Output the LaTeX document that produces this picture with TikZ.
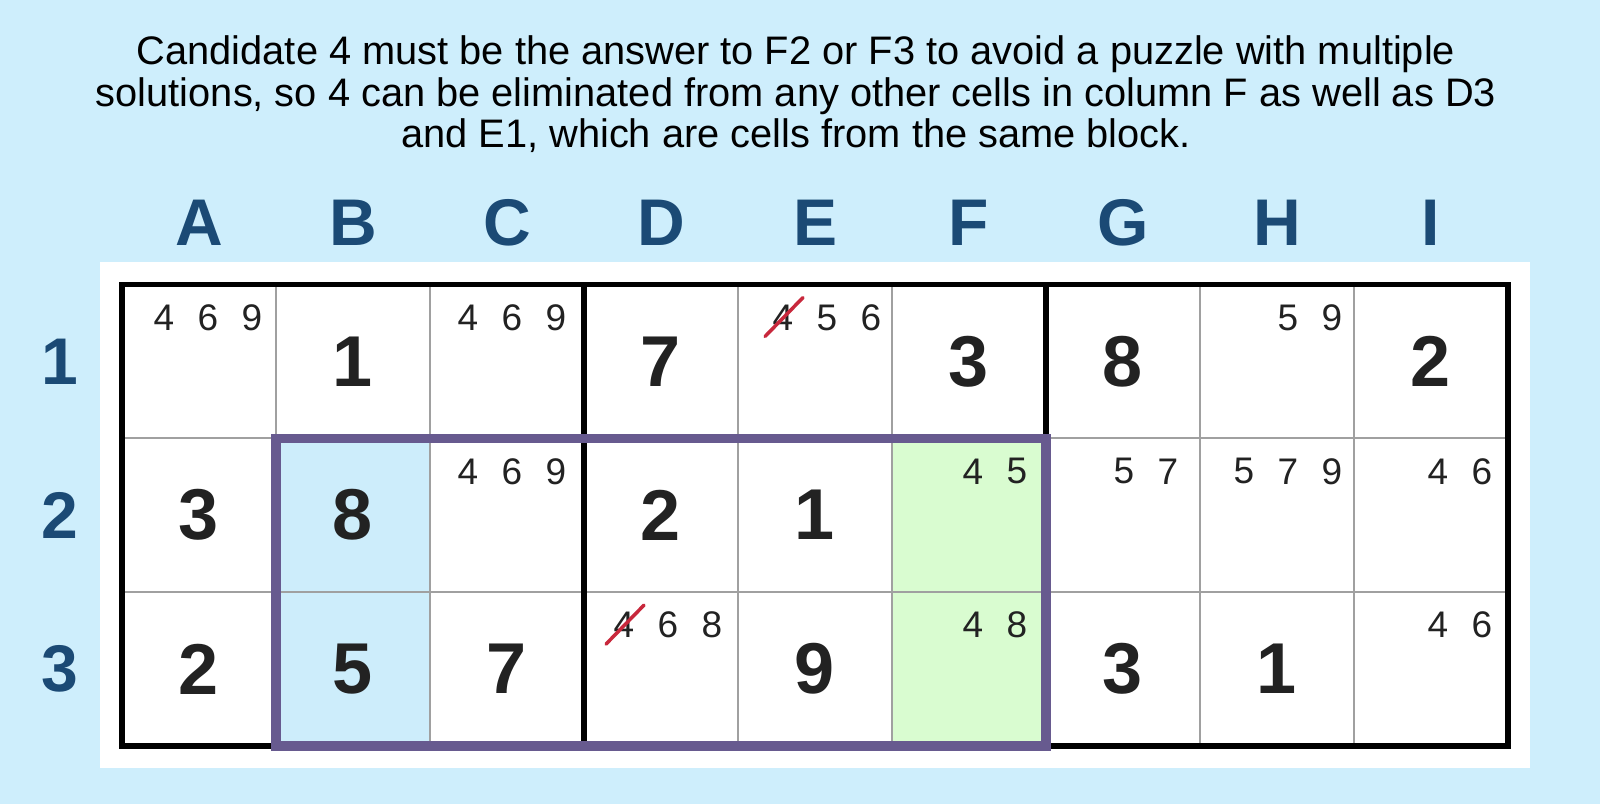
\documentclass[tikz,border=0pt]{standalone}
\usepackage{fontspec}
\setmainfont{Liberation Sans}
\definecolor{bgblue}{HTML}{CEEEFC}
\definecolor{selblue}{HTML}{CDEDFB}
\definecolor{selgreen}{HTML}{D9FCD0}
\definecolor{rectpurple}{HTML}{675A8F}
\definecolor{lblblue}{HTML}{1B4A75}
\definecolor{digit}{HTML}{222222}
\definecolor{thingray}{HTML}{A0A0A0}
\definecolor{strikered}{HTML}{C8283C}
\begin{document}
\begin{tikzpicture}[x=1pt,y=-1pt,
  given/.style={font=\fontsize{72}{72}\selectfont\bfseries, text=digit, inner sep=0pt},
  cand/.style={font=\fontsize{37}{37}\selectfont, text=digit, inner sep=0pt},
  lbl/.style={font=\fontsize{66}{66}\selectfont\bfseries, text=lblblue, inner sep=0pt},
  title/.style={font=\fontsize{39.8}{42}\selectfont, text=black, inner sep=0pt, anchor=base},
  thinline/.style={draw=thingray, line width=2pt},
  thickline/.style={draw=black, line width=5.5pt},
  strike/.style={draw=strikered, line width=3.5pt, line cap=round},
  unitrect/.style={draw=rectpurple, line width=9.5pt}]
\useasboundingbox (0,0) rectangle (1600,804);
\fill[bgblue] (0,0) rectangle (1600,804);
% title
\node[title] (t1) at (796,64) {Candidate 4 must be the answer to F2 or F3 to avoid a puzzle with multiple};
\node[title] (t2) at (796,106) {solutions, so 4 can be eliminated from any other cells in column F as well as D3};
\node[title] (t3) at (796,147) {and E1, which are cells from the same block.};
% column letters
\foreach \L [count=\i from 0] in {A,B,C,D,E,F,G,H,I}
  \node[lbl] (col-\L) at (199+154*\i,223) {\L};
% row numbers
\foreach \r in {1,2,3}
  \node[lbl] (row-\r) at (60,284.5+153.8*\r-76.9) {\r};
% white panel
\fill[white] (100,262) rectangle (1530,768);
% highlighted cells
\fill[selblue] (276,438.3) rectangle (430,745.9);
\fill[selgreen] (892,438.3) rectangle (1046,745.9);
% thin grid lines
\foreach \i in {1,2,4,5,7,8}
  \draw[thinline] (122+154*\i,284.5) -- (122+154*\i,745.9);
\foreach \j in {1,2}
  \draw[thinline] (122,284.5+153.8*\j) -- (1508,284.5+153.8*\j);
% thick block lines and border
\draw[thickline] (584,284.5) -- (584,745.9);
\draw[thickline] (1046,284.5) -- (1046,745.9);
\draw[thickline] (122,284.5) rectangle (1508,745.9);
% purple rectangle
\draw[unitrect] (276,438.3) rectangle (1046,745.9);
% given digits
\foreach \c/\r/\d in {1/1/1, 3/1/7, 5/1/3, 6/1/8, 8/1/2,
                      0/2/3, 1/2/8, 3/2/2, 4/2/1,
                      0/3/2, 1/3/5, 2/3/7, 4/3/9, 6/3/3, 7/3/1}
  \node[given] (g-\c-\r) at (199+154*\c,284.5+153.8*\r-76.9) {\d};
% candidates (listed right to left)
\foreach \c/\r/\o/\l in {0/1/24/{9,6,4}, 2/1/28/{9,6,4}, 4/1/21/{6,5,4}, 7/1/22/{9,5},
                         2/2/28/{9,6,4}, 5/2/29/{5,4}, 6/2/32/{7,5}, 7/2/22/{9,7,5}, 8/2/26/{6,4},
                         3/3/26/{8,6,4}, 5/3/29/{8,4}, 8/3/26/{6,4}}
  \foreach \dd [count=\k from 0] in \l
    \node[cand] (cand-\c-\r-\k) at (276+154*\c-\o-44*\k,284.5+153.8*\r-153.8+33) {\dd};
% strikes
\draw[strike] ([shift={(-18,19)}]cand-4-1-2.center) -- ([shift={(20,-20)}]cand-4-1-2.center);
\draw[strike] ([shift={(-18,19)}]cand-3-3-2.center) -- ([shift={(20,-20)}]cand-3-3-2.center);
\end{tikzpicture}
\end{document}
